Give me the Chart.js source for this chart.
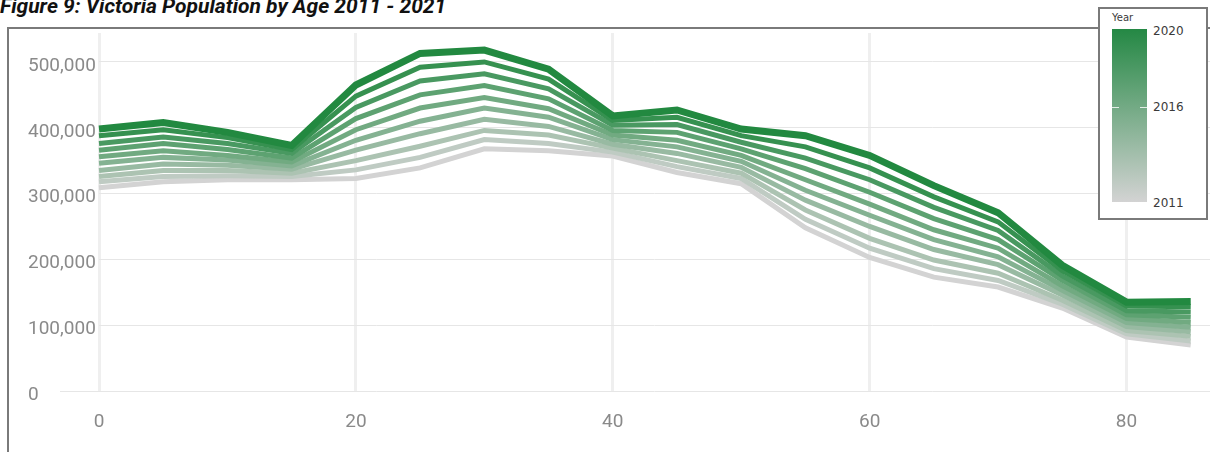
<!DOCTYPE html>
<html lang="en">
<head>
    <meta charset="UTF-8">
    <title>Victoria Population by Age</title>
    <style>
        body { margin: 0; background: #fff; overflow: hidden; }
        #wrap { position: relative; width: 1210px; height: 452px; }
        #grafica { position: absolute; left: 0; top: 0; }
        #titulo {
            position: absolute; left: 0; top: -6px; line-height: 21px;
            font: italic bold 21px Roboto, sans-serif; color: #111; white-space: nowrap;
        }
        #marco {
            position: absolute; left: 7px; top: 27px; width: 1210px; height: 430px;
            border-left: 2px solid #7a7a7a; border-top: 2px solid #7a7a7a;
        }
        #leyenda {
            position: absolute; left: 1098px; top: 7px; width: 106px; height: 209px;
            border: 2px solid #7a7a7a; background: #fff; font-family: "DejaVu Sans", sans-serif; color: #3a3a3a;
        }
        #leyenda .year { position: absolute; left: 12px; top: 3px; font-size: 10px; }
        #leyenda .bar {
            position: absolute; left: 12px; top: 20px; width: 35px; height: 173px;
            background: linear-gradient(to bottom, rgb(36,136,68), rgb(211,211,211));
        }
        #leyenda .tk { position: absolute; height: 1px; width: 7px; background: rgba(255,255,255,0.8); }
        #leyenda .lab { position: absolute; left: 53px; font-size: 12px; line-height: 14px; }
    </style>
    <script src="https://cdn.jsdelivr.net/npm/chart.js"></script>
</head>

<body>
<div id="wrap">
    <div id="titulo">Figure 9: Victoria Population by Age 2011 - 2021</div>
    <div id="marco"></div>
    <canvas id="grafica" width="1210" height="452"></canvas>
    <div id="leyenda">
        <div class="year">Year</div>
        <div class="bar"></div>
        <div class="tk" style="left:12px; top:98px"></div>
        <div class="tk" style="left:40px; top:98px"></div>
        <div class="lab" style="top:15px">2020</div>
        <div class="lab" style="top:91px">2016</div>
        <div class="lab" style="top:187px">2011</div>
    </div>
</div>
<script>
    // Grupos de edad (inicio de cada tramo de 5 años)
    const edades = [0, 5, 10, 15, 20, 25, 30, 35, 40, 45, 50, 55, 60, 65, 70, 75, 80, 85];
    const anios = [2011, 2012, 2013, 2014, 2015, 2016, 2017, 2018, 2019, 2020];

    // Población por grupo de edad, un arreglo por año
    const pob2011 = [309000, 318000, 321000, 321000, 323000, 339000, 368000, 365000, 357000, 332000, 315000, 248000, 203000, 173000, 158000, 126000, 82000, 70000];
    const pob2012 = [318000, 326000, 327000, 326000, 336000, 355000, 382000, 376000, 363000, 341000, 323000, 261000, 217000, 186000, 168000, 132000, 87000, 76000];
    const pob2013 = [326000, 335000, 335000, 331000, 350000, 372000, 396000, 389000, 369000, 350000, 331000, 275000, 232000, 199000, 179000, 138000, 92000, 83000];
    const pob2014 = [335000, 345000, 343000, 337000, 366000, 391000, 413000, 402000, 375000, 361000, 340000, 290000, 250000, 215000, 192000, 146000, 98000, 90000];
    const pob2015 = [346000, 355000, 351000, 342000, 381000, 410000, 430000, 416000, 382000, 371000, 349000, 305000, 267000, 230000, 204000, 153000, 104000, 97000];
    const pob2016 = [356000, 365000, 358000, 348000, 397000, 430000, 446000, 429000, 389000, 381000, 358000, 321000, 284000, 245000, 217000, 160000, 110000, 104000];
    const pob2017 = [366000, 376000, 367000, 354000, 414000, 450000, 464000, 444000, 396000, 393000, 368000, 338000, 302000, 262000, 230000, 168000, 116000, 112000];
    const pob2018 = [376000, 386000, 376000, 361000, 431000, 471000, 482000, 459000, 404000, 405000, 378000, 354000, 321000, 279000, 244000, 175000, 122000, 120000];
    const pob2019 = [388000, 397000, 385000, 367000, 448000, 492000, 500000, 474000, 411000, 416000, 388000, 371000, 339000, 295000, 257000, 183000, 129000, 128000];
    const pob2020 = [398000, 408000, 393000, 373000, 465000, 513000, 518000, 489000, 418000, 427000, 398000, 388000, 358000, 312000, 271000, 191000, 135000, 136000];
    const series = [pob2011, pob2012, pob2013, pob2014, pob2015, pob2016, pob2017, pob2018, pob2019, pob2020];

    // Etiquetas de los ejes
    const ticksX = [0, 20, 40, 60, 80];
    const ticksY = [0, 100000, 200000, 300000, 400000, 500000];

    // Color: gris (2011) -> verde (2020)
    function colorAnio(anio) {
        const t = (anio - 2011) / 9;
        const r = Math.round(211 + (34 - 211) * t);
        const g = Math.round(211 + (137 - 211) * t);
        const b = Math.round(211 + (64 - 211) * t);
        return `rgb(${r},${g},${b})`;
    }

    const datasets = anios.map((anio, i) => ({
        label: String(anio),
        data: edades.map((e, j) => ({ x: e, y: series[i][j] })),
        borderColor: colorAnio(anio),
        borderWidth: anio === 2020 ? 7 : 5,
        pointRadius: 0,
        tension: 0,
        clip: false,
        order: 2020 - anio
    }));

    // Extiende la línea del cero hacia la izquierda
    const lineaCero = {
        id: 'lineaCero',
        beforeDatasetsDraw(chart) {
            const ctx = chart.ctx;
            const y = chart.scales.y.getPixelForValue(0);
            ctx.save();
            ctx.strokeStyle = '#e6e6e6';
            ctx.lineWidth = 1;
            ctx.beginPath();
            ctx.moveTo(60, y + 0.5);
            ctx.lineTo(chart.chartArea.left, y + 0.5);
            ctx.stroke();
            ctx.restore();
        }
    };

    const $grafica = document.querySelector('#grafica');
    new Chart($grafica, {
        type: 'line',
        data: { datasets },
        options: {
            responsive: false,
            animation: false,
            devicePixelRatio: 1,
            layout: { padding: { top: 33, right: 0, left: 28, bottom: 0 } },
            plugins: { legend: { display: false }, tooltip: { enabled: false } },
            scales: {
                x: {
                    type: 'linear',
                    min: 0,
                    max: 86.5,
                    afterBuildTicks: s => { s.ticks = ticksX.map(v => ({ value: v })); },
                    afterFit: s => { s.height = 61; },
                    border: { display: false },
                    grid: { color: '#efefef', lineWidth: 3, drawTicks: false },
                    ticks: { color: '#8a8a8a', padding: 20, font: { family: 'Roboto', size: 19 } }
                },
                y: {
                    min: 0,
                    max: 544000,
                    afterBuildTicks: s => { s.ticks = ticksY.map(v => ({ value: v })); },
                    afterFit: s => { s.width = 71; },
                    border: { display: false },
                    grid: { color: '#e6e6e6', lineWidth: 1, drawTicks: false },
                    ticks: {
                        color: '#8a8a8a', padding: 4, labelOffset: 4, crossAlign: 'far',
                        font: { family: 'Roboto', size: 19 },
                        callback: v => v.toLocaleString('en-US')
                    }
                }
            }
        },
        plugins: [lineaCero]
    });
</script>
</body>
</html>
